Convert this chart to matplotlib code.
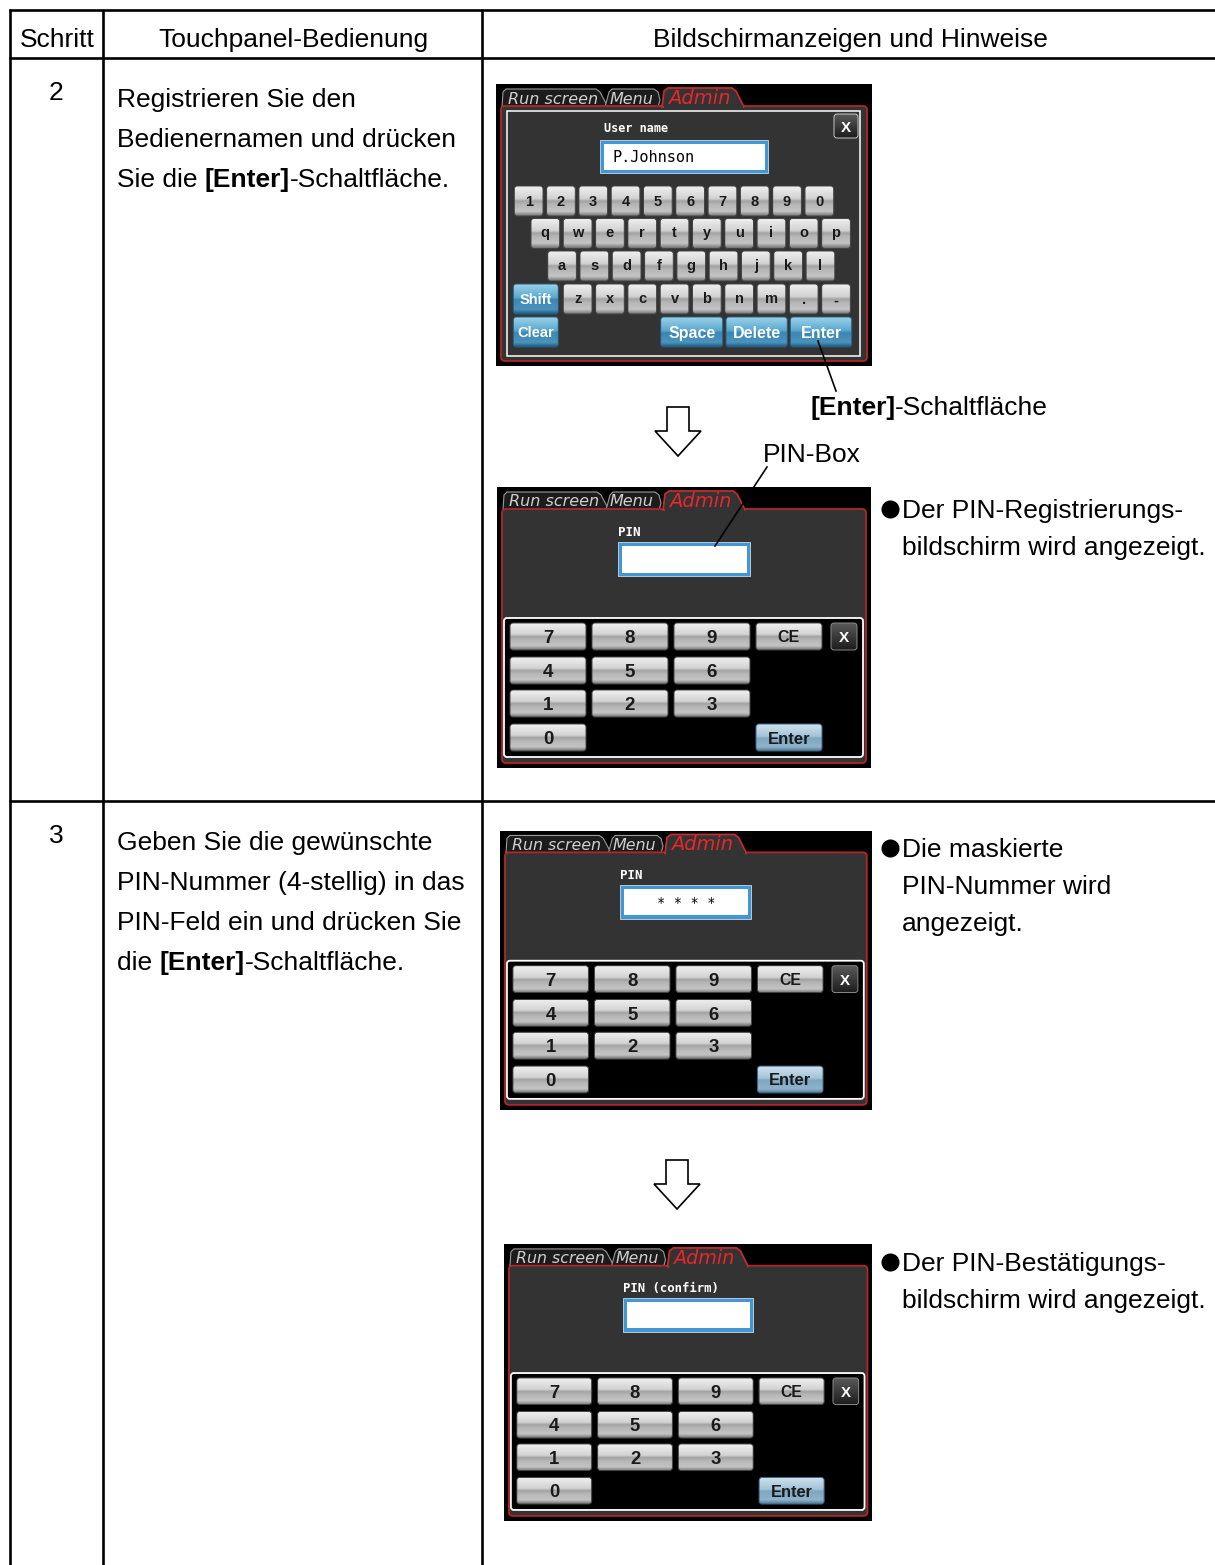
import matplotlib
matplotlib.use("Agg")
import matplotlib.pyplot as plt
import numpy as np
from matplotlib.patches import Rectangle, FancyBboxPatch, Polygon
from matplotlib.colors import LinearSegmentedColormap

FAM = ['Liberation Sans', 'DejaVu Sans']
MONO = ['DejaVu Sans Mono']

# ---- content -------------------------------------------------------------
header = ["Schritt", "Touchpanel-Bedienung", "Bildschirmanzeigen und Hinweise"]
step_no = ["2", "3"]
step2_text = [[("Registrieren Sie den", "normal")],
              [("Bedienernamen und drücken", "normal")],
              [("Sie die ", "normal"), ("[Enter]", "bold"), ("-Schaltfläche.", "normal")]]
step3_text = [[("Geben Sie die gewünschte", "normal")],
              [("PIN-Nummer (4-stellig) in das", "normal")],
              [("PIN-Feld ein und drücken Sie", "normal")],
              [("die ", "normal"), ("[Enter]", "bold"), ("-Schaltfläche.", "normal")]]
note_pin_reg = ["Der PIN-Registrierungs-", "bildschirm wird angezeigt."]
note_masked = ["Die maskierte", "PIN-Nummer wird", "angezeigt."]
note_pin_conf = ["Der PIN-Bestätigungs-", "bildschirm wird angezeigt."]
callout_enter = [("[Enter]", "bold"), ("-Schaltfläche", "normal")]
callout_pinbox = "PIN-Box"

tabs = ["Run screen", "Menu", "Admin"]
user_label = "User name"
user_value = "P.Johnson"
kb_rows = ["1234567890", "qwertyuiop", "asdfghjkl", "zxcvbnm.-"]
kb_func = ["Shift", "Clear", "Space", "Delete", "Enter"]
pin_rows = [["7", "8", "9"], ["4", "5", "6"], ["1", "2", "3"], ["0"]]
pin_titles = ["PIN", "PIN", "PIN (confirm)"]
pin_values = ["", "* * * *", ""]

# ---- figure --------------------------------------------------------------
fig = plt.figure(figsize=(12.15, 15.65), dpi=100)
ax = fig.add_axes([0, 0, 1, 1])
ax.set_xlim(0, 1215)
ax.set_ylim(1565, 0)
ax.axis('off')
renderer = fig.canvas.get_renderer()

BODY = 19


def width(s, weight='normal', size=BODY):
    t = ax.text(0, 0, s, fontsize=size, fontweight=weight, family=FAM)
    w = t.get_window_extent(renderer).width
    t.remove()
    return w


SPACE = width("a a") - width("aa")


def rich(x, y, parts, size=BODY):
    for s, wgt in parts:
        ax.text(x, y, s, fontsize=size, fontweight=wgt, family=FAM,
                va='baseline', ha='left', color='black')
        w = width(s.rstrip(), wgt, size)
        if s.endswith(" "):
            w += SPACE
        x += w


# table grid
LW = 1.9
for yy in [9.5, 58, 801]:
    ax.plot([8.5, 1215], [yy, yy], color='black', lw=LW, solid_capstyle='butt')
for xx in [9.5, 103, 482]:
    ax.plot([xx, xx], [8.5, 1565], color='black', lw=LW, solid_capstyle='butt')

for cx, s in zip([57, 293, 850], header):
    ax.text(cx, 47, s, fontsize=BODY, family=FAM, ha='center', va='baseline')

ax.text(56, 100, step_no[0], fontsize=BODY, family=FAM, ha='center', va='baseline')
ax.text(56, 843, step_no[1], fontsize=BODY, family=FAM, ha='center', va='baseline')
for i, line in enumerate(step2_text):
    rich(117, 107 + 40 * i, line)
for i, line in enumerate(step3_text):
    rich(117, 850 + 40 * i, line)


def note(x, y, lines, dy=37):
    ax.plot([x + 10], [y - 9], marker='o', ms=12, color='black', mec='black', zorder=4)
    for i, s in enumerate(lines):
        ax.text(x + 22, y + dy * i, s, fontsize=BODY, family=FAM, va='baseline', ha='left')


note(880, 518, note_pin_reg)
note(880, 857, note_masked)
note(880, 1271, note_pin_conf)

# ---- screenshot helpers --------------------------------------------------
GRAD = np.linspace(0, 1, 80).reshape(-1, 1)
cm_gray = LinearSegmentedColormap.from_list('g', [(0, '#f0f0f0'), (0.42, '#d2d2d2'), (0.5, '#a2a2a2'),
                                                   (0.62, '#b6b6b6'), (0.85, '#c4c4c4'), (1, '#747474')])
cm_blue = LinearSegmentedColormap.from_list('b', [(0, '#9ad2ea'), (0.45, '#5aa8cf'), (0.52, '#3b86b2'),
                                                   (0.85, '#4a94bd'), (1, '#205a80')])
cm_lblue = LinearSegmentedColormap.from_list('lb', [(0, '#cfe2ee'), (0.45, '#a4c4d8'), (0.52, '#7fa6c0'),
                                                     (0.85, '#8fb3cb'), (1, '#4f7896')])
cm_dark = LinearSegmentedColormap.from_list('d', [(0, '#5a5a5a'), (0.5, '#3a3a3a'), (1, '#1c1c1c')])


class Screen:
    def __init__(self, ox, oy, s):
        self.ox, self.oy, self.s = ox, oy, s

    def p(self, x, y):
        return self.ox + self.s * x, self.oy + self.s * y


def key(S, x, y, w, h, label, cmap, fs, color='#1a1a1a', edge='#444444'):
    X, Y = S.p(x, y)
    W, H = S.s * w, S.s * h
    patch = FancyBboxPatch((X, Y), W, H, boxstyle=f"round,pad=0,rounding_size={3 * S.s}",
                           fc='none', ec=edge, lw=0.7, zorder=6)
    ax.add_patch(patch)
    im = ax.imshow(GRAD, cmap=cmap, extent=(X, X + W, Y + H, Y), aspect='auto',
                   interpolation='bilinear', zorder=5)
    im.set_clip_path(patch)
    em = fs * 100 / 72
    off = 0.27 if label.islower() else 0.36
    ax.text(X + W / 2, Y + H / 2 + off * em, label, fontsize=fs, fontweight='bold',
            family=FAM, ha='center', va='baseline', color=color, zorder=7)


def frame(S, w, h):
    X, Y = S.p(0, 0)
    ax.add_patch(Rectangle((X, Y), S.s * w, S.s * h, fc='black', ec='none', zorder=1))
    run = [(6, 23), (7, 8), (10, 5), (100, 5), (104, 8), (112, 23)]
    menu = [(109, 23), (113, 8), (116, 5), (158, 5), (162, 8), (164, 16), (162, 23)]
    for poly in (run, menu):
        ax.add_patch(Polygon([S.p(*q) for q in poly], closed=True, fc='#1c1c1c',
                             ec='#9a9a9a', lw=0.8, zorder=2))
    px, py = S.p(5, 22)
    ax.add_patch(FancyBboxPatch((px, py), S.s * (w - 10), S.s * (h - 27),
                                boxstyle=f"round,pad=0,rounding_size={4 * S.s}",
                                fc='#333333', ec='#b3262a', lw=1.3, zorder=2))
    admin = [(166, 23), (168, 7), (172, 4), (236, 4), (240, 7), (248, 23)]
    ax.add_patch(Polygon([S.p(*q) for q in admin], closed=True, fc='#333333',
                         ec='#c42a2e', lw=1.3, zorder=3))
    cx, cy = S.p(167.5, 21)
    ax.add_patch(Rectangle((cx, cy), S.s * 79, S.s * 3.5, fc='#333333', ec='none', zorder=3))
    for s, (lx, ly), col, fs in zip(tabs, [(57, 15), (135, 15), (203, 14.5)],
                                    ['#cfcfcf', '#cfcfcf', '#e8262c'], [11.5, 11.5, 14]):
        X, Y = S.p(lx, ly)
        ax.text(X, Y, s, fontsize=fs * S.s, style='italic', family=['DejaVu Sans'],
                color=col, ha='center', va='center', zorder=4)


def field(S, x, y, w, h):
    X, Y = S.p(x, y)
    ax.add_patch(Rectangle((X, Y), S.s * w, S.s * h, fc='#3f97d6', ec='#d0d8e0', lw=0.6, zorder=4))
    ax.add_patch(Rectangle((X + 3.5 * S.s, Y + 3.5 * S.s), S.s * (w - 7), S.s * (h - 7),
                           fc='white', ec='none', zorder=4))
    return X, Y


# ---- screen 1 : keyboard --------------------------------------------------
S1 = Screen(496, 84, 1.0)
frame(S1, 376, 282)
ix, iy = S1.p(11, 27)
ax.add_patch(Rectangle((ix, iy), 353, 245, fc='none', ec='white', lw=1.1, zorder=3))
key(S1, 338, 30, 24, 24, "X", cm_dark, 11, color='white', edge='#c8c8c8')
lx, ly = S1.p(140, 45)
ax.text(lx, ly, user_label, fontsize=8.5, fontweight='bold', family=MONO, color='white',
        ha='center', va='center', zorder=4)
fx, fy = field(S1, 104, 56, 168, 33)
ax.text(fx + 12, fy + 17, user_value, fontsize=11, family=MONO, color='black',
        ha='left', va='center', zorder=5)

row_x0 = [18.3, 35.0, 51.7, 67.3]
row_y0 = [102, 134.5, 167, 200]
for r, labels in enumerate(kb_rows):
    for i, lab in enumerate(labels):
        key(S1, row_x0[r] + 32.3 * i, row_y0[r], 28.7, 30, lab, cm_gray, 10.5)
func_pos = [(17.3, 200, 45), (17.3, 233, 45), (164.7, 233, 62), (230, 233, 61.3), (294.3, 233, 61.4)]
for lab, (x, y, w) in zip(kb_func, func_pos):
    fs = 10.5 if lab in ("Shift", "Clear") else 11.5
    key(S1, x, y, w, 30, lab, cm_blue, fs, color='white', edge='#2a5e80')


# ---- PIN screens ----------------------------------------------------------
def pin_screen(S, title, value):
    frame(S, 374, 281)
    tx, ty = S.p(121, 45)
    ax.text(tx, ty, title, fontsize=9 * S.s, fontweight='bold', family=MONO, color='white',
            ha='left', va='center', zorder=4)
    field(S, 121, 55, 132, 34)
    if value:
        cx, cy = S.p(187, 73)
        ax.text(cx, cy, value, fontsize=10, family=MONO, color='black', ha='center',
                va='center', zorder=5)
    kx, ky = S.p(7, 131)
    ax.add_patch(FancyBboxPatch((kx, ky), S.s * 359, S.s * 139,
                                boxstyle=f"round,pad=0,rounding_size={3 * S.s}",
                                fc='black', ec='white', lw=1.3, zorder=3))
    cols = [13, 95, 177]
    rows = [136, 170, 203, 237]
    for r, labels in enumerate(pin_rows):
        for c, lab in enumerate(labels):
            key(S, cols[c], rows[r], 76, 27, lab, cm_gray, 13.5 * S.s)
    key(S, 259, rows[0], 66, 27, "CE", cm_gray, 11.5 * S.s)
    key(S, 334, rows[0], 26, 27, "X", cm_dark, 11 * S.s, color='white', edge='#8a8a8a')
    key(S, 259, rows[3], 66, 27, "Enter", cm_lblue, 12 * S.s, edge='#3d6580')


pin_screens = [Screen(497, 487, 1.0), Screen(500, 830.5, 0.994), Screen(504, 1244, 0.985)]
for S, t, v in zip(pin_screens, pin_titles, pin_values):
    pin_screen(S, t, v)

# ---- arrows and callouts -------------------------------------------------
arrow = np.array([(667, 407), (689, 407), (689, 431), (701, 431), (678, 456), (655, 431), (667, 431)])
for dx, dy in [(0, 0), (-1, 753)]:
    ax.add_patch(Polygon(arrow + [dx, dy], closed=True, fc='white', ec='black', lw=1.2, zorder=3))

ax.plot([818, 836], [341, 391], color='black', lw=1.2, zorder=8)
ax.plot([715, 767], [546, 467], color='black', lw=1.2, zorder=8)
rich(810, 415, callout_enter)
ax.text(763, 462, callout_pinbox, fontsize=BODY, family=FAM, ha='left', va='baseline')

ax.set_xlim(0, 1215)
ax.set_ylim(1565, 0)
fig.savefig("out.png", dpi=100)
